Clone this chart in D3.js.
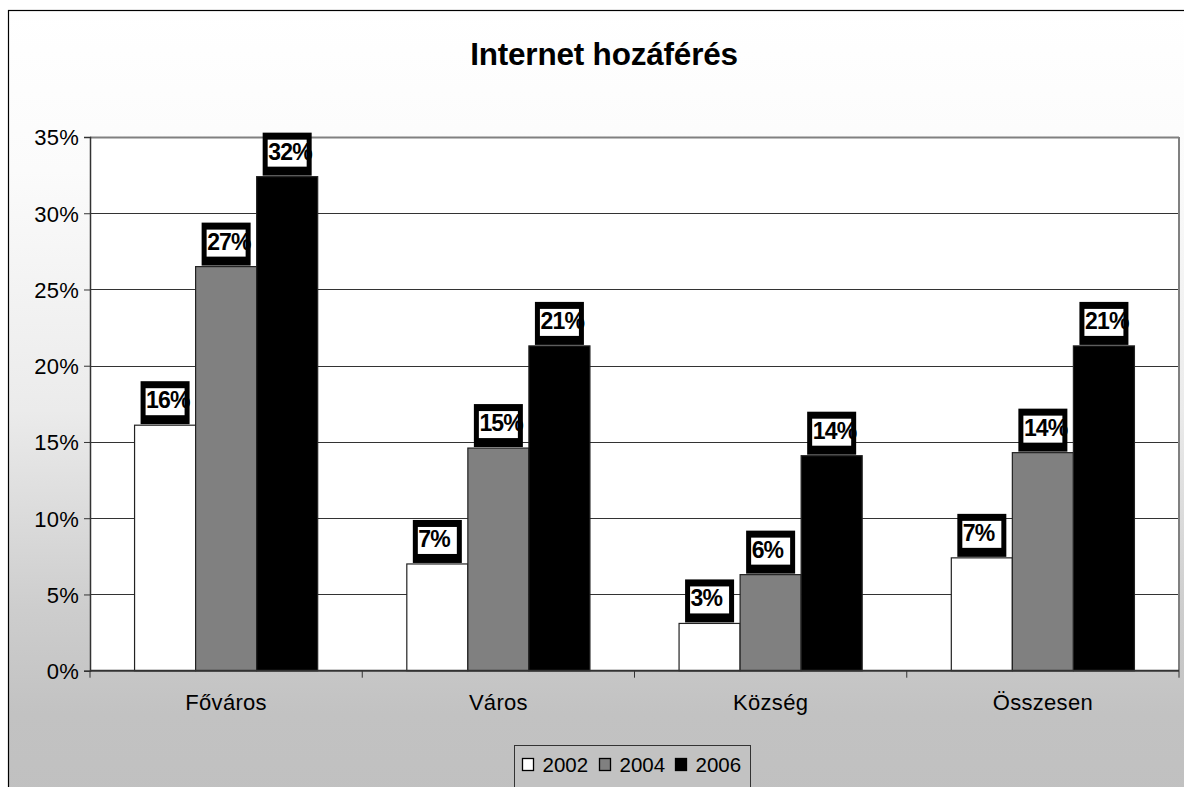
<!DOCTYPE html>
<html><head><meta charset="utf-8">
<script src="https://cdn.jsdelivr.net/npm/d3@7"></script>
<style>html,body{margin:0;padding:0;background:#fff;overflow:hidden}</style>
</head><body>
<svg id="c" width="1184" height="787"></svg>
<script>
const title = "Internet hozáférés";
const categories = ["Főváros", "Város", "Község", "Összesen"];
const years = ["2002", "2004", "2006"];
const v2002 = [16.1, 7.0, 3.1, 7.4];
const v2004 = [26.5, 14.6, 6.3, 14.3];
const v2006 = [32.4, 21.3, 14.1, 21.3];
const yTicks = [0, 5, 10, 15, 20, 25, 30, 35];
const colors = ["#ffffff", "#808080", "#000000"];

const series = [v2002, v2004, v2006];
const svg = d3.select("#c");
const font = "'Liberation Sans', Arial, sans-serif";

const defs = svg.append("defs");
const g = defs.append("linearGradient").attr("id","bg").attr("x1",0).attr("y1",0).attr("x2",0).attr("y2",1);
[[0,"#ffffff"],[0.2,"#fbfbfb"],[0.5,"#ebebeb"],[0.75,"#cdcdcd"],[0.88,"#c2c2c2"],[1,"#c0c0c0"]]
  .forEach(([o,c]) => g.append("stop").attr("offset",o).attr("stop-color",c));

svg.append("rect").attr("x",8.5).attr("y",10.5).attr("width",1200).attr("height",800)
  .attr("fill","url(#bg)").attr("stroke","#000").attr("stroke-width",1.2);

svg.append("text").attr("x",604).attr("y",65).attr("text-anchor","middle")
  .attr("font-family",font).attr("font-weight","bold").attr("font-size",31.5)
  .attr("letter-spacing",-0.2).text(title);

const L = 90, R = 1179, T = 137, B = 670.7;
const y = d3.scaleLinear().domain([0,35]).range([B,T]);
const x0 = d3.scaleBand().domain(categories).range([L,R]).padding(0);
const x1 = d3.scaleBand().domain(years).range([0,x0.bandwidth()]).paddingInner(0).paddingOuter(0.73);

svg.append("rect").attr("x",L).attr("y",T).attr("width",R-L).attr("height",B-T).attr("fill","#fff");

// gridlines
svg.append("g").selectAll("line").data(yTicks.filter(d=>d>0)).join("line")
  .attr("x1",L).attr("x2",R).attr("y1",d=>Math.round(y(d))+0.5).attr("y2",d=>Math.round(y(d))+0.5)
  .attr("stroke",d=>d===35?"#808080":"#333").attr("stroke-width",d=>d===35?2:1);
svg.append("line").attr("x1",R).attr("x2",R).attr("y1",T).attr("y2",B).attr("stroke","#808080").attr("stroke-width",2);

// bars
const groups = svg.append("g").selectAll("g").data(categories).join("g")
  .attr("transform",d=>`translate(${x0(d)},0)`);
groups.selectAll("rect").data((c,i)=>years.map((yr,j)=>({yr, v:series[j][i], j})))
  .join("rect")
  .attr("x",d=>x1(d.yr)).attr("width",x1.bandwidth())
  .attr("y",d=>y(d.v)).attr("height",d=>B-y(d.v))
  .attr("fill",d=>colors[d.j]).attr("stroke","#222").attr("stroke-width",1.2);

// axes
const yAxis = d3.axisLeft(y).tickValues(yTicks).tickSize(6).tickFormat(d=>d+"%");
const ya = svg.append("g").attr("transform",`translate(${L},0)`).call(yAxis);
ya.select(".domain").attr("stroke","#333").attr("stroke-width",1.5);
ya.selectAll(".tick line").attr("stroke","#333");
ya.selectAll("text").attr("font-family",font).attr("font-size",22).attr("letter-spacing",0.2)
  .attr("fill","#000").attr("x",-11).attr("dy","0.36em");

svg.append("line").attr("x1",L).attr("x2",R).attr("y1",B).attr("y2",B).attr("stroke","#333").attr("stroke-width",2);
const bounds = categories.map(c=>x0(c)).concat([R]);
svg.append("g").selectAll("line").data(bounds).join("line")
  .attr("x1",d=>d).attr("x2",d=>d).attr("y1",B).attr("y2",B+7).attr("stroke","#333");
svg.append("g").selectAll("text").data(categories).join("text")
  .attr("x",d=>x0(d)+x0.bandwidth()/2).attr("y",710).attr("text-anchor","middle")
  .attr("font-family",font).attr("font-size",22).attr("letter-spacing",0.3).text(d=>d);

// data labels
const lab = groups.selectAll("g.lab").data((c,i)=>years.map((yr,j)=>({yr, v:series[j][i], j})))
  .join("g").attr("class","lab")
  .attr("transform",d=>`translate(${x1(d.yr)+x1.bandwidth()/2-24.5},${y(d.v)-44})`);
lab.append("rect").attr("width",49).attr("height",43).attr("fill","#000");
lab.append("rect").attr("x",5).attr("y",7).attr("width",39).attr("height",27).attr("fill","#fff");
lab.append("text").attr("x",5.5).attr("y",27).attr("font-family",font).attr("font-weight","bold")
  .attr("font-size",23).attr("letter-spacing",-0.8).text(d=>Math.round(d.v)+"%");

// legend
const lg = svg.append("g").attr("transform","translate(514.5,745.5)");
lg.append("rect").attr("width",236).attr("height",60).attr("fill","#c2c2c2").attr("stroke","#333");
const lx = [8, 85, 161];
years.forEach((yr,j)=>{
  lg.append("rect").attr("x",lx[j]).attr("y",13).attr("width",11).attr("height",12)
    .attr("fill",colors[j]).attr("stroke","#000").attr("stroke-width",1.3);
  lg.append("text").attr("x",lx[j]+20).attr("y",26).attr("font-family",font).attr("font-size",20.5).text(yr);
});
</script>
</body></html>
